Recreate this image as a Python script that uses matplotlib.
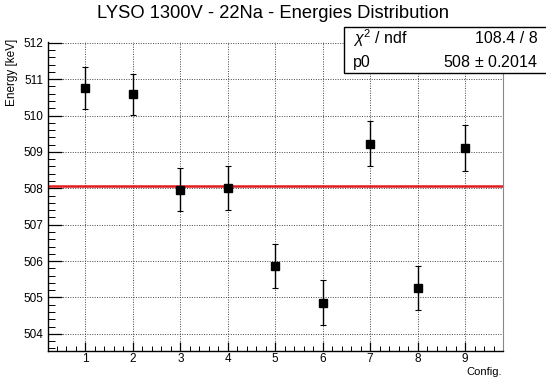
import numpy as np
import matplotlib
matplotlib.use('Agg')
import matplotlib.pyplot as plt
from matplotlib.ticker import MultipleLocator
from matplotlib.patches import Rectangle

plt.rcParams['font.family'] = ['Liberation Sans', 'DejaVu Sans']
plt.rcParams['mathtext.fontset'] = 'custom'
plt.rcParams['mathtext.rm'] = 'Liberation Sans'
plt.rcParams['mathtext.it'] = 'Liberation Sans:italic'

# peak energy per configuration, with errors
config = [1, 2, 3, 4, 5, 6, 7, 8, 9]
energy = [510.75, 510.58, 507.96, 508.01, 505.86, 504.86, 509.23, 505.26, 509.11]
energy_err = [0.57, 0.57, 0.59, 0.60, 0.61, 0.61, 0.63, 0.61, 0.64]

# constant fit result
p0 = 508.06
p0_err = 0.2014
chi2 = 108.4
ndf = 8

W, H = 546, 383
fig = plt.figure(figsize=(W / 100, H / 100), dpi=100)
fl, fr, ft, fb = 47.5, 503, 42, 351
ax = fig.add_axes([fl / W, (H - fb) / H, (fr - fl) / W, (fb - ft) / H])

ax.errorbar(config, energy, yerr=energy_err, fmt='s', color='black',
            ms=5.5, elinewidth=1.0, capsize=2, capthick=0.8, zorder=3)

x0, x1 = 0.2, 9.8
ax.plot([x0, x1], [p0, p0], color='#e41a1c', lw=1.8, zorder=2)

ax.set_xlim(x0, x1)
ax.set_ylim(503.53, 512.02)

ax.xaxis.set_minor_locator(MultipleLocator(0.2))
ax.yaxis.set_major_locator(MultipleLocator(1))
ax.yaxis.set_minor_locator(MultipleLocator(0.2))
ax.set_xticks(config)
ax.set_xticklabels([str(c) for c in config])
ax.tick_params(which='both', direction='in', top=False, right=False, color='black')
ax.tick_params(axis='x', which='major', length=6.7, width=0.9, labelsize=8.5, pad=1.5)
ax.tick_params(axis='x', which='minor', length=3.3, width=0.7)
ax.tick_params(axis='y', which='major', length=9.8, width=0.9, labelsize=8.5, pad=3)
ax.tick_params(axis='y', which='minor', length=4.9, width=0.7)
ax.grid(True, which='major', linestyle=(0, (1, 1.5)), color='#444444', lw=0.7)

ax.spines['left'].set_linewidth(1.0)
ax.spines['bottom'].set_linewidth(1.0)
ax.spines['right'].set_color('#888888')
ax.spines['top'].set_visible(False)

fig.text(273 / W, 1 - 14 / H, 'LYSO 1300V - 22Na - Energies Distribution',
         ha='center', va='center', fontsize=13.2)
fig.text(502 / W, 1 - 372 / H, 'Config.', ha='right', va='center', fontsize=8)
fig.text(12.5 / W, 1 - 39 / H, 'Energy [keV]', rotation=90, ha='center', va='top',
         fontsize=8.5)

# fit statistics box, running off the right edge
bx0, by0, bx1, by1 = 343.5, 27.5, 550, 72.5
fig.patches.append(Rectangle((bx0 / W, 1 - by1 / H), (bx1 - bx0) / W, (by1 - by0) / H,
                             transform=fig.transFigure, facecolor='white',
                             edgecolor='black', lw=1.0, zorder=5))
fs = 11.5
fig.text(353 / W, 1 - 38.5 / H, r'$\chi^{2}$ / ndf', ha='left', va='center', fontsize=fs, zorder=6)
fig.text(537.5 / W, 1 - 38.5 / H, f'{chi2:.1f} / {ndf}', ha='right', va='center', fontsize=fs, zorder=6)
fig.text(353 / W, 1 - 62 / H, 'p0', ha='left', va='center', fontsize=fs, zorder=6)
fig.text(537.5 / W, 1 - 62 / H, f'{p0:.0f} $\\pm$ {p0_err}', ha='right', va='center',
         fontsize=fs, zorder=6)

fig.savefig('out.png', dpi=100)
